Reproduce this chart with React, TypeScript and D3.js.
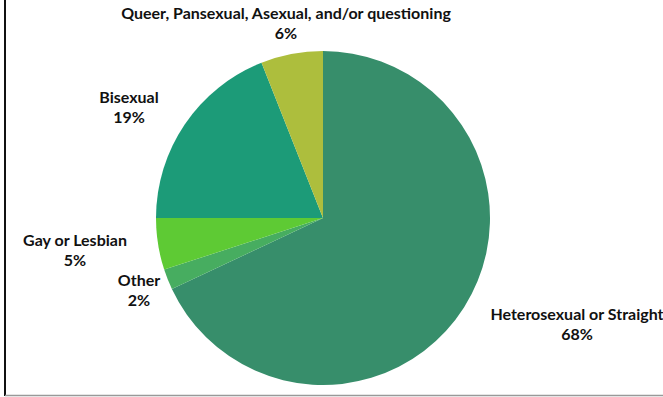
import React from "react";
import * as d3 from "d3";

const categories = [
  "Heterosexual or Straight",
  "Other",
  "Gay or Lesbian",
  "Bisexual",
  "Queer, Pansexual, Asexual, and/or questioning",
];
const values = [68, 2, 5, 19, 6];
const colors = ["#378E6B", "#47AD60", "#5ECA34", "#1C9B78", "#ADBE3D"];
// label anchor (center of first line) offsets from the pie centre
const labelOffsets: [number, number][] = [
  [254, 96],
  [-184, 62],
  [-248, 22],
  [-194, -121],
  [-37, -205],
];

const W = 663;
const H = 397;
const cx = 323;
const cy = 218;
const R = 167;

export default function App() {
  const pie = d3
    .pie<number>()
    .sort(null)
    .value((d) => d)
    .startAngle(0)
    .endAngle(2 * Math.PI);
  const arcs = pie(values);
  const arc = d3.arc<d3.PieArcDatum<number>>().innerRadius(0).outerRadius(R);
  const font = "Lato, 'Open Sans', sans-serif";
  return (
    <svg
      width={W}
      height={H}
      style={{ position: "absolute", left: 0, top: 0, background: "#fff" }}
    >
      <rect x={0} y={0} width={W} height={H} fill="#fff" />
      <g transform={`translate(${cx},${cy})`}>
        {arcs.map((a, i) => (
          <path key={i} d={arc(a) || ""} fill={colors[i]} />
        ))}
      </g>
      {arcs.map((a, i) => {
        const [dx, dy] = labelOffsets[i];
        return (
          <text
            key={"t" + i}
            x={cx + dx}
            y={cy + dy}
            textAnchor="middle"
            fontFamily={font}
            fontWeight={700}
            fontSize={16}
            fill="#111"
          >
            <tspan x={cx + dx} dy="0.35em">
              {categories[i]}
            </tspan>
            <tspan x={cx + dx} dy={20}>
              {`${values[i]}%`}
            </tspan>
          </text>
        );
      })}
      <line x1={5} y1={0} x2={5} y2={396} stroke="#111" strokeWidth={2} />
      <line x1={5} y1={395.5} x2={W} y2={395.5} stroke="#999" strokeWidth={1.5} />
    </svg>
  );
}
